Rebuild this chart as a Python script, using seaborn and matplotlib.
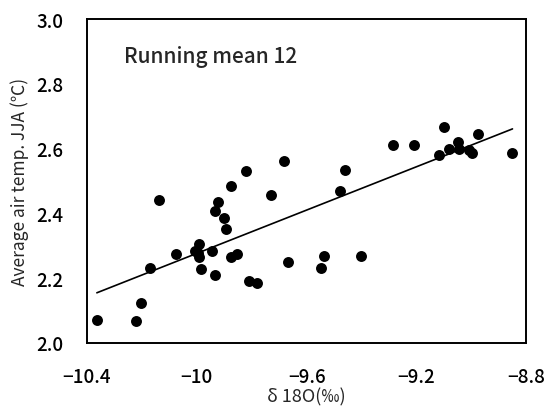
import numpy as np
import pandas as pd

import matplotlib
matplotlib.use("Agg")
import matplotlib.pyplot as plt
import seaborn as sns

# delta 18O (per mil) and running mean 12 of JJA air temperature
d18o = [-10.364, -10.223, -10.205, -10.169, -10.137, -10.075, -10.006, -9.997,
        -9.991, -9.991, -9.985, -9.943, -9.932, -9.934, -9.924, -9.901,
        -9.892, -9.877, -9.874, -9.853, -9.822, -9.810, -9.781, -9.729,
        -9.681, -9.666, -9.547, -9.537, -9.480, -9.459, -9.401, -9.285,
        -9.209, -9.116, -9.101, -9.081, -9.049, -9.045, -9.010, -8.996,
        -8.975, -8.850]
temp = [2.072, 2.068, 2.125, 2.232, 2.440, 2.274, 2.284, 2.279,
        2.307, 2.265, 2.227, 2.284, 2.211, 2.408, 2.434, 2.385,
        2.353, 2.486, 2.267, 2.276, 2.532, 2.191, 2.184, 2.458,
        2.561, 2.249, 2.232, 2.269, 2.469, 2.535, 2.270, 2.612,
        2.611, 2.579, 2.668, 2.598, 2.621, 2.600, 2.597, 2.586,
        2.644, 2.587]

xticks = [-10.4, -10.0, -9.6, -9.2, -8.8]
xtick_labels = ["\u221210.4", "\u221210", "\u22129.6", "\u22129.2", "\u22128.8"]
yticks = [2.0, 2.2, 2.4, 2.6, 2.8, 3.0]

df = pd.DataFrame({"d18o": d18o, "temp": temp})

sns.set_style("white")
plt.rcParams["font.family"] = ["Noto Sans CJK JP", "DejaVu Sans"]
plt.rcParams["font.weight"] = "medium"

fig = plt.figure(figsize=(5.47, 4.10), dpi=100)
ax = fig.add_axes([0.159, 0.161, 0.803, 0.790])

sns.scatterplot(data=df, x="d18o", y="temp", ax=ax, color="black", s=62,
                edgecolor="black", linewidth=0, zorder=3)

# least squares line over the data range
coef = np.polyfit(df["d18o"], df["temp"], 1)
lx = np.array([df["d18o"].min(), df["d18o"].max()])
ax.plot(lx, np.polyval(coef, lx), color="black", lw=1.2)

ax.set_xlim(-10.4, -8.8)
ax.set_ylim(2.0, 3.0)
ax.set_xticks(xticks)
ax.set_xticklabels(xtick_labels)
ax.set_yticks(yticks)
ax.set_yticklabels([f"{v:.1f}" for v in yticks])
ax.tick_params(direction="in", length=5, width=1.2, labelsize=13.5, pad=17,
               colors="black")

for sp in ax.spines.values():
    sp.set_color("black")
    sp.set_linewidth(1.4)

ax.set_xlabel("\u03b4 18O(\u2030)", fontsize=13, labelpad=1)
ax.set_ylabel("Average air temp. JJA (\u2103)", fontsize=12.5, labelpad=5)
ax.text(0.084, 0.867, "Running mean 12", transform=ax.transAxes,
        fontsize=15, ha="left", va="baseline")

fig.savefig("out.png", dpi=100)
